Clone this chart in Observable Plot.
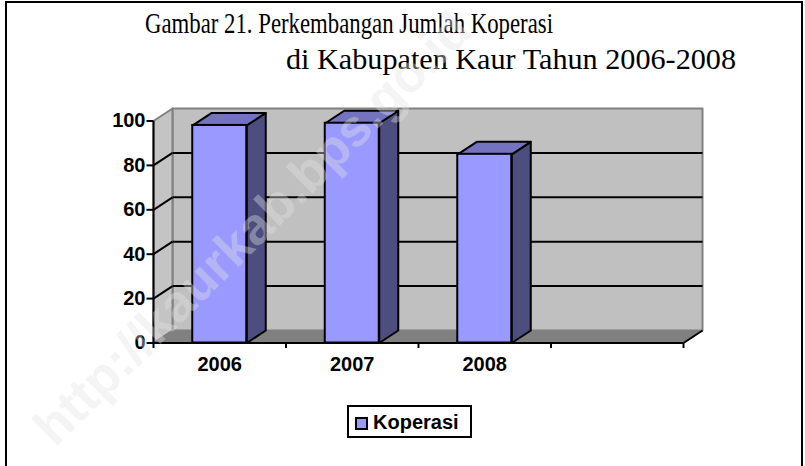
<!DOCTYPE html>
<html><head><meta charset="utf-8">
<script src="https://cdn.jsdelivr.net/npm/d3@7"></script>
<script src="https://cdn.jsdelivr.net/npm/@observablehq/plot@0.6"></script>
<style>
body{margin:0;background:#fff;}
#wrap{position:relative;width:805px;height:466px;overflow:hidden;background:#fff;}
#frame{position:absolute;left:5px;top:1px;width:798px;height:500px;border:2px solid #000;box-sizing:border-box;pointer-events:none;}
.title{position:absolute;font-family:"Liberation Serif","Times New Roman",serif;font-size:30px;line-height:1;white-space:nowrap;transform-origin:0 0;color:#000;}
#legend{position:absolute;left:347px;top:405px;width:125px;height:33px;border:2px solid #000;box-sizing:border-box;background:#fff;font-family:"Liberation Sans",Arial,sans-serif;font-weight:bold;font-size:20px;}
#legend .sw{position:absolute;left:6px;top:10px;width:13px;height:13px;border:2px solid #000;box-sizing:border-box;background:#9999ff;}
#legend .lb{position:absolute;left:24px;top:3px;line-height:24px;}
#wm{position:absolute;left:252px;top:228px;transform:translate(-50%,-50%) rotate(-44.7deg);font-family:"Liberation Sans",Arial,sans-serif;font-weight:bold;font-size:52px;color:rgba(225,225,225,0.38);white-space:nowrap;pointer-events:none;}
</style>
</head><body>
<div id="wrap"></div>
<script>
// ---- data ----
const categories = ["2006", "2007", "2008", ""];
const values = [98, 99, 85];
const yTicks = [0, 20, 40, 60, 80, 100];
const seriesName = "Koperasi";
const title1 = "Gambar 21. Perkembangan Jumlah Koperasi";
const title2 = "di Kabupaten Kaur Tahun 2006-2008";
const watermark = "http://kaurkab.bps.go.id";

// ---- layout ----
const W = 805, H = 466;
const mL = 153, mR = 122, mT = 120.5, mB = 123.5;
const N = categories.length;
const XU = (W - mL - mR) / N;      // px per category
const YU = (H - mT - mB) / 100;    // px per value unit
const DX = 19 / XU, DY = 12.5 / YU; // 3D depth in data units
const HW = 27 / XU;                 // half bar width
const gridVals = yTicks.filter(t => t > 0 && t < 100);
const yMax = yTicks[yTicks.length - 1];

const poly = (pts, id) => pts.concat([pts[0]]).map(([x, y]) => ({id, x, y}));
const backWall = poly([[DX, DY], [N + DX, DY], [N + DX, yMax + DY], [DX, yMax + DY]], "back");
const leftWall = poly([[0, 0], [DX, DY], [DX, yMax + DY], [0, yMax]], "left");
const floor = poly([[0, 0], [N, 0], [N + DX, DY], [DX, DY]], "floor");

const bars = values.map((v, i) => ({i, v, c: i + 0.5}));
const tops = bars.flatMap(b => poly([[b.c - HW, b.v], [b.c + HW, b.v], [b.c + HW + DX, b.v + DY], [b.c - HW + DX, b.v + DY]], "t" + b.i));
const sides = bars.flatMap(b => poly([[b.c + HW, 0], [b.c + HW + DX, DY], [b.c + HW + DX, b.v + DY], [b.c + HW, b.v]], "s" + b.i));
const bounds = d3.range(0, N + 1);

const font = "Liberation Sans, Arial, sans-serif";

const chart = Plot.plot({
  width: W, height: H,
  marginLeft: mL, marginRight: mR, marginTop: mT, marginBottom: mB,
  x: {domain: [0, N], axis: null},
  y: {domain: [0, yMax], axis: null},
  style: {background: "transparent", overflow: "visible"},
  marks: [
    Plot.line(backWall, {x: "x", y: "y", z: "id", fill: "#c0c0c0", stroke: "#808080", strokeWidth: 2}),
    Plot.line(leftWall, {x: "x", y: "y", z: "id", fill: "#c4c4c4", stroke: "#808080", strokeWidth: 2}),
    Plot.line(floor, {x: "x", y: "y", z: "id", fill: "#808080", stroke: "#808080", strokeWidth: 1}),
    // gridlines on back wall and left wall
    Plot.link(gridVals, {x1: DX, x2: N + DX, y1: d => d + DY, y2: d => d + DY, stroke: "#000", strokeWidth: 2}),
    Plot.link(gridVals, {x1: 0, x2: DX, y1: d => d, y2: d => d + DY, stroke: "#000", strokeWidth: 2}),
    // bars
    Plot.line(sides, {x: "x", y: "y", z: "id", fill: "#4d4d80", stroke: "#000", strokeWidth: 2, strokeLinejoin: "round"}),
    Plot.line(tops, {x: "x", y: "y", z: "id", fill: "#7373bf", stroke: "#000", strokeWidth: 2, strokeLinejoin: "round"}),
    Plot.rect(bars, {x1: d => d.c - HW, x2: d => d.c + HW, y1: 0, y2: "v", fill: "#9999ff", stroke: "#000", strokeWidth: 2}),
    // axes
    Plot.link([0], {x1: 0, x2: 0, y1: 0, y2: yMax, stroke: "#000", strokeWidth: 2}),
    Plot.link([0], {x1: 0, x2: N, y1: 0, y2: 0, stroke: "#000", strokeWidth: 2}),
    Plot.link([0], {x1: N, x2: N + DX, y1: 0, y2: DY, stroke: "#000", strokeWidth: 2}),
    Plot.link(yTicks, {x1: -7 / XU, x2: 0, y1: d => d, y2: d => d, stroke: "#000", strokeWidth: 2}),
    Plot.link(bounds, {x1: d => d, x2: d => d, y1: 0, y2: -5 / YU, stroke: "#000", strokeWidth: 2}),
    Plot.text(yTicks, {x: 0, y: d => d, text: d => String(d), dx: -8, textAnchor: "end", fontFamily: font, fontWeight: "bold", fontSize: 20, fill: "#000"}),
    Plot.text(categories.map((c, i) => ({c, i})), {x: d => d.i + 0.5, y: 0, text: "c", dy: 22, fontFamily: font, fontWeight: "bold", fontSize: 20, fill: "#000"})
  ]
});

const wrap = document.getElementById("wrap");
wrap.appendChild(chart);

function addTitle(text, left, top, targetW) {
  const el = document.createElement("div");
  el.className = "title";
  el.textContent = text;
  el.style.left = left + "px";
  el.style.top = top + "px";
  wrap.appendChild(el);
  const w = el.getBoundingClientRect().width;
  el.style.transform = `scaleX(${targetW / w})`;
}
addTitle(title1, 145, 8, 408);
addTitle(title2, 286, 44, 450);

const lg = document.createElement("div");
lg.id = "legend";
lg.innerHTML = `<div class="sw"></div><div class="lb"></div>`;
lg.querySelector(".lb").textContent = seriesName;
wrap.appendChild(lg);

const wm = document.createElement("div");
wm.id = "wm";
wm.textContent = watermark;
wrap.appendChild(wm);

const fr = document.createElement("div");
fr.id = "frame";
wrap.appendChild(fr);
</script>
</body></html>
